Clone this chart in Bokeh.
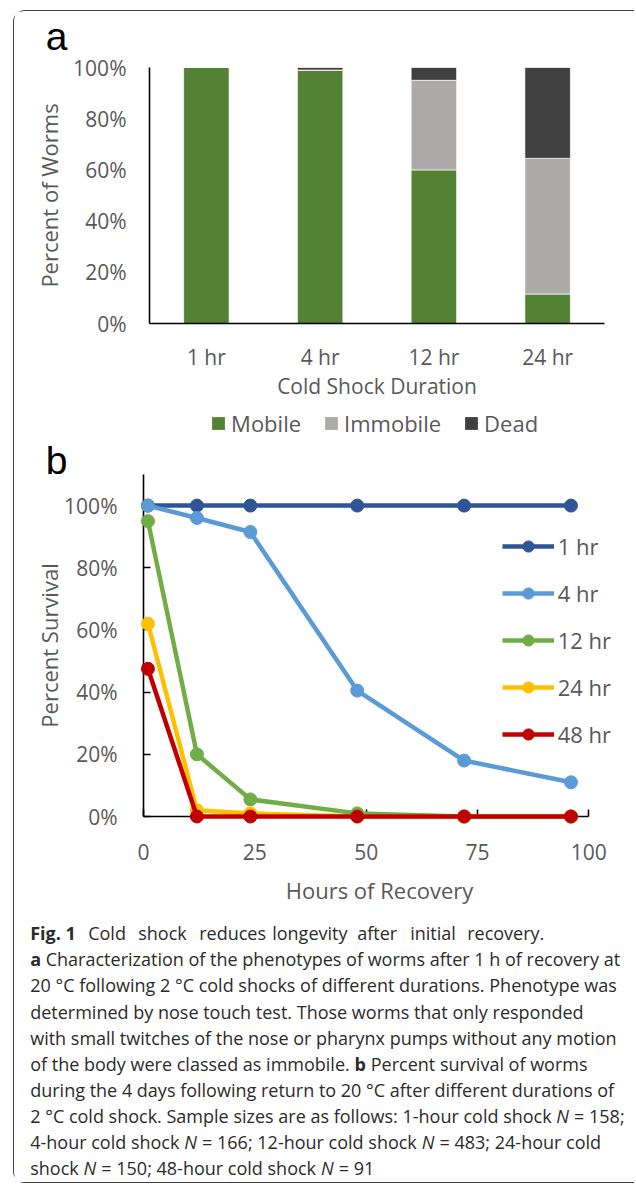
import os, glob
from bokeh.plotting import figure
from bokeh.models import (ColumnDataSource, FactorRange, Range1d, Legend, LegendItem,
                          FixedTicker, NumeralTickFormatter)
from bokeh.core.properties import value
from bokeh.embed import file_html
from bokeh.resources import INLINE

# ---------------- data: panel a ----------------
durations = ["1 hr", "4 hr", "12 hr", "24 hr"]
mobile = [1.000, 0.990, 0.600, 0.115]
immobile = [0.000, 0.000, 0.350, 0.530]
dead = [0.000, 0.010, 0.050, 0.355]
phenotypes = ["Mobile", "Immobile", "Dead"]
pct_ticks = [0.0, 0.2, 0.4, 0.6, 0.8, 1.0]

# ---------------- data: panel b ----------------
recovery_hours = [1, 12, 24, 48, 72, 96]
survival_1hr = [1.00, 1.00, 1.00, 1.00, 1.00, 1.00]
survival_4hr = [1.00, 0.96, 0.915, 0.405, 0.18, 0.11]
survival_12hr = [0.95, 0.20, 0.055, 0.01, 0.00, 0.00]
survival_24hr = [0.62, 0.02, 0.01, 0.00, 0.00, 0.00]
survival_48hr = [0.475, 0.00, 0.00, 0.00, 0.00, 0.00]
series_labels = ["1 hr", "4 hr", "12 hr", "24 hr", "48 hr"]
hour_ticks = [0, 25, 50, 75, 100]

FONT = "Open Sans"
TXT = "#595959"
BORDER = "1.3px solid #404040"
W = 621
BAR_COLORS = ["#548235", "#AEAAAA", "#404040"]


def style_axis(ax, tick_in):
    ax.axis_line_color = "black"
    ax.axis_line_width = 1.6
    ax.major_tick_line_color = "black" if tick_in else None
    ax.major_tick_line_width = 1.6
    ax.minor_tick_line_color = None
    ax.major_tick_out = 0
    ax.major_tick_in = tick_in
    ax.major_label_text_font = FONT
    ax.major_label_text_font_size = "21px"
    ax.major_label_text_color = TXT
    ax.axis_label_text_font = FONT
    ax.axis_label_text_font_style = "normal"
    ax.axis_label_text_color = TXT
    ax.axis_label_text_font_size = "22px"


# ================= panel a =================
fa = figure(x_range=FactorRange(*durations), y_range=Range1d(0, 1),
            width=W, height=394, output_backend="svg", toolbar_location=None,
            min_border_left=135, min_border_right=W - 135 - 455, min_border_top=56,
            min_border_bottom=82, margin=(10, 0, 0, 13),
            styles={"border-left": BORDER, "border-top": BORDER, "border-top-left-radius": "12px"})
fa.outline_line_color = None
fa.grid.visible = False
src_a = ColumnDataSource(dict(duration=durations, Mobile=mobile, Immobile=immobile, Dead=dead))
bars = fa.vbar_stack(phenotypes, x="duration", width=0.4, source=src_a,
                     fill_color=BAR_COLORS, line_color="white", line_width=1, line_alpha=0.7)
style_axis(fa.xaxis[0], 0)
style_axis(fa.yaxis[0], 0)
fa.yaxis.ticker = FixedTicker(ticks=pct_ticks)
fa.yaxis.formatter = NumeralTickFormatter(format="0%")
fa.yaxis.major_label_standoff = 23
fa.yaxis.axis_label = "Percent of Worms"
fa.yaxis.axis_label_standoff = 6
fa.xaxis.major_label_standoff = 19
fa.xaxis.axis_label = "Cold Shock Duration"
fa.xaxis.axis_label_text_font_size = "21px"
fa.xaxis.axis_label_standoff = -2

lab_a = fa.text(x=[-0.912], y=[1.122], text=["a"], text_font=value("Liberation Sans"),
                text_font_size=value("39px"), text_color="black",
                text_baseline="middle", text_align="left")
lab_a.level = "overlay"

# ---- legend strip of panel a (own canvas so that it is not clipped) ----
fl = figure(x_range=FactorRange(*durations), y_range=Range1d(0, 1),
            width=W, height=35, output_backend="svg", toolbar_location=None,
            min_border=0, x_axis_location=None, y_axis_location=None,
            margin=(0, 0, 0, 13), styles={"border-left": BORDER})
fl.outline_line_color = None
fl.grid.visible = False
key_bars = fl.vbar_stack(phenotypes, x="duration", width=0.4, source=src_a,
                         fill_color=BAR_COLORS, line_color=BAR_COLORS, line_width=0)
for r in key_bars:
    r.visible = False
leg_a = Legend(items=[LegendItem(label=n, renderers=[r]) for n, r in zip(phenotypes, key_bars)],
               orientation="horizontal", location=(196.1, 1.3),
               glyph_width=16, glyph_height=16, label_standoff=5, spacing=22,
               padding=0, margin=0, border_line_color=None, background_fill_alpha=0,
               inactive_fill_alpha=0,
               label_text_font=FONT, label_text_font_size="22px", label_text_color=TXT)
fl.add_layout(leg_a)

# ================= panel b =================
fb = figure(x_range=Range1d(0, 106), y_range=Range1d(0, 1.10),
            width=W, height=475, output_backend="svg", toolbar_location=None,
            min_border_left=129, min_border_right=W - 129 - 472, min_border_top=35,
            min_border_bottom=98, margin=(0, 0, 0, 13), styles={"border-left": BORDER})
fb.outline_line_color = None
fb.grid.visible = False
colors_b = ["#2F5597", "#5B9BD5", "#70AD47", "#FFC000", "#C00000"]
series_b = [survival_1hr, survival_4hr, survival_12hr, survival_24hr, survival_48hr]
items_b = []
for vals, lab, col in zip(series_b, series_labels, colors_b):
    src = ColumnDataSource(dict(h=recovery_hours, s=vals))
    ln = fb.line("h", "s", source=src, line_color=col, line_width=4.5)
    mk = fb.scatter("h", "s", source=src, size=13, fill_color=col, line_color=col)
    ln.level = "overlay"
    mk.level = "overlay"
    items_b.append(LegendItem(label=lab, renderers=[ln, mk]))
leg_b = Legend(items=items_b, orientation="vertical", location=(358.7, 67.3),
               glyph_width=52, glyph_height=28, label_standoff=4, spacing=17,
               padding=0, margin=0, border_line_color=None, background_fill_alpha=0,
               label_text_font=FONT, label_text_font_size="22px", label_text_color=TXT)
fb.add_layout(leg_b)

style_axis(fb.xaxis[0], 7)
style_axis(fb.yaxis[0], 7)
fb.xaxis.ticker = FixedTicker(ticks=hour_ticks)
fb.xaxis.bounds = (0, 100)
fb.xaxis.major_label_standoff = 27
fb.xaxis.axis_label = "Hours of Recovery"
fb.xaxis.axis_label_standoff = 12
fb.yaxis.ticker = FixedTicker(ticks=pct_ticks)
fb.yaxis.formatter = NumeralTickFormatter(format="0%")
fb.yaxis.major_label_standoff = 26
fb.yaxis.axis_label = "Percent Survival"
fb.yaxis.axis_label_standoff = -3

lab_b = fb.text(x=[-21.98], y=[1.1444], text=["b"], text_font=value("Liberation Sans"),
                text_font_size=value("39px"), text_color="black",
                text_baseline="middle", text_align="left")
lab_b.level = "overlay"

# ================= caption =================
CAP_PX = 18
W_REG = {" ": 260, ".": 266, ",": 245, ";": 266, ":": 266, "-": 322, "=": 571, "°": 428,
         "C": 631, "F": 516, "N": 764, "P": 603, "S": 549, "T": 553,
         "a": 556, "b": 613, "c": 480, "d": 613, "e": 561, "f": 336, "g": 546, "h": 614,
         "i": 252, "j": 252, "k": 530, "l": 252, "m": 930, "n": 614, "o": 604, "p": 613,
         "q": 613, "r": 408, "s": 477, "t": 353, "u": 614, "v": 500, "w": 797, "x": 525,
         "y": 500, "z": 469}
W_BOLD = {"F": 575, "i": 285, "g": 600, ".": 285, " ": 260, "1": 572, "a": 604, "b": 640}
W_ITAL = {"N": 734}

_pil = None
try:
    from PIL import ImageFont
    cands = []
    for root in ("/usr/share/fonts", "/usr/local/share/fonts", os.path.expanduser("~/.fonts")):
        cands += glob.glob(os.path.join(root, "**", "*.ttf"), recursive=True)
    for c in cands:
        b = os.path.basename(c).lower()
        if b == "opensans-regular.ttf" or b.startswith("opensans["):
            _pil = ImageFont.truetype(c, CAP_PX)
            break
except Exception:
    _pil = None


def tw(s, style):
    if style == "normal" and _pil is not None:
        try:
            return _pil.getlength(s)
        except Exception:
            pass
    tab = {"normal": W_REG, "bold": W_BOLD, "italic": W_ITAL}[style]
    tot = 0
    for ch in s:
        if ch in tab:
            tot += tab[ch]
        elif ch.isdigit():
            tot += 571
        else:
            tot += W_REG.get(ch, 560) * (1.05 if style == "bold" else 1.0)
    return tot * CAP_PX / 1000.0


SP = (" ", "normal")
caption = [
    [("Fig. 1", "bold", 30), ("Cold", "normal", 88), ("shock", "normal", 138),
     ("reduces", "normal", 199), ("longevity", "normal", 272), ("after", "normal", 357),
     ("initial", "normal", 410), ("recovery.", "normal", 467)],
    [("a", "bold"), SP, ("Characterization of the phenotypes of worms after 1 h of recovery at", "normal")],
    [("20 °C following 2 °C cold shocks of different durations. Phenotype was", "normal")],
    [("determined by nose touch test. Those worms that only responded", "normal")],
    [("with small twitches of the nose or pharynx pumps without any motion", "normal")],
    [("of the body were classed as immobile.", "normal"), SP, ("b", "bold"), SP,
     ("Percent survival of worms", "normal")],
    [("during the 4 days following return to 20 °C after different durations of", "normal")],
    [("2 °C cold shock. Sample sizes are as follows: 1-hour cold shock", "normal"), SP,
     ("N", "italic"), SP, ("= 158;", "normal")],
    [("4-hour cold shock", "normal"), SP, ("N", "italic"), SP,
     ("= 166; 12-hour cold shock", "normal"), SP, ("N", "italic"), SP,
     ("= 483; 24-hour cold", "normal")],
    [("shock", "normal"), SP, ("N", "italic"), SP, ("= 150; 48-hour cold shock", "normal"), SP,
     ("N", "italic"), SP, ("= 91", "normal")],
]

CAP_TOP = 915.3
CAP_H = 269
fc = figure(x_range=Range1d(14.3, 14.3 + W), y_range=Range1d(CAP_TOP + CAP_H, CAP_TOP),
            width=W, height=CAP_H, output_backend="svg", toolbar_location=None,
            min_border=0, x_axis_location=None, y_axis_location=None,
            margin=(0, 0, 0, 13),
            styles={"border-left": BORDER, "border-bottom": BORDER,
                    "border-bottom-left-radius": "12px"})
fc.outline_line_color = None
fc.grid.visible = False

segs = {"normal": ([], [], []), "bold": ([], [], []), "italic": ([], [], [])}
for i, line in enumerate(caption):
    yy = 934 + 26.1 * i
    xx = 30.0
    for seg in line:
        txt, style = seg[0], seg[1]
        if len(seg) > 2:
            xx = seg[2]
        if txt.strip():
            segs[style][0].append(xx)
            segs[style][1].append(yy)
            segs[style][2].append(txt)
        xx += tw(txt, style)

for style, (xs, ys, ts) in segs.items():
    r = fc.text(x=xs, y=ys, text=ts, text_font=value(FONT), text_font_size=value(f"{CAP_PX}px"),
                text_font_style=value(style), text_color="#2b2b2b",
                text_baseline="middle", text_align="left")
    r.level = "overlay"

open("out.html", "w").write(file_html([fa, fl, fb, fc], INLINE))
